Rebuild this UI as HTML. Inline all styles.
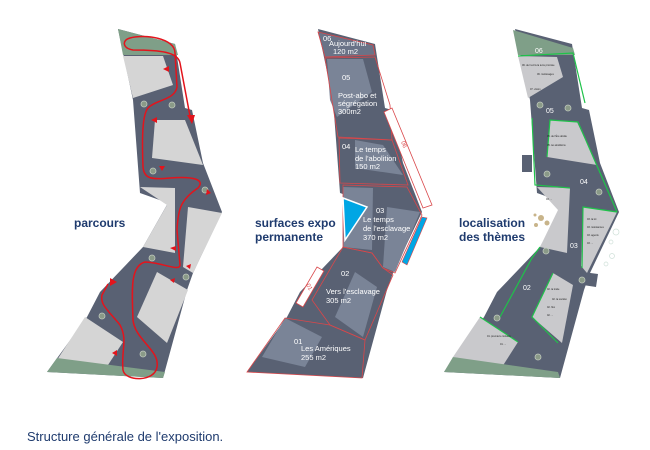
<!DOCTYPE html>
<html><head><meta charset="utf-8"><style>
html,body{margin:0;padding:0;background:#fff;}
svg{display:block;font-family:"Liberation Sans",sans-serif;}
</style></head><body>
<svg width="650" height="450" viewBox="0 0 650 450" xmlns="http://www.w3.org/2000/svg">
<defs>
<path id="outline" d="M118,29 L175,44 L185,108 L192,110 L203,163 L222,212 L193,273 L187,290 L163,378 L47,372 L87,317 L100,292 L143,247 L168,203 L140,193 L133,100 Z"/>
</defs>

<!-- PLAN 1 -->
<g>
<use href="#outline" fill="#596173"/>
<path d="M118,29 L175,44 L178,55 L123,55 Z" fill="#7f9f88"/>
<path d="M123,56 L163,56 L173,85 L133,98 Z" fill="#d5d5d5"/>
<path d="M155,120 L185,120 L203,165 L152,158 Z" fill="#d5d5d5"/>
<path d="M140,187 L175,188 L175,253 L143,247 L167,205 Z" fill="#d5d5d5"/>
<path d="M188,207 L222,213 L193,273 L183,267 Z" fill="#d5d5d5"/>
<path d="M157,272 L188,290 L167,343 L137,317 Z" fill="#d5d5d5"/>
<path d="M85,317 L123,342 L108,365 L57,360 Z" fill="#d5d5d5"/>
<path d="M47,372 L57,358 L165,372 L163,378 Z" fill="#7f9f88"/>
<g fill="#8a9a88" stroke="#bfc8bc" stroke-width="0.8">
<circle cx="144" cy="104" r="3"/><circle cx="172" cy="105" r="3"/><circle cx="153" cy="171" r="3"/>
<circle cx="205" cy="190" r="3"/><circle cx="152" cy="258" r="3"/><circle cx="186" cy="277" r="3"/>
<circle cx="102" cy="316" r="3"/><circle cx="143" cy="354" r="3"/>
</g>
<path d="M190,116 L180,63 C178,52 160,50 133,50 C122,48 122,40 130,38 C145,34 175,38 175,53 L177,87 C175,100 155,100 148,108 C142,115 142,140 143,167 C144,178 150,180 170,178 C195,176 205,180 198,188 C180,200 178,210 177,230 L180,265 C180,272 160,262 145,262 C130,266 132,290 133,320 C135,340 160,350 157,367 C155,382 125,382 123,370 C121,350 128,340 120,325 C108,310 100,305 102,295 L108,284" fill="none" stroke="#e3141c" stroke-width="1.5"/>
<g fill="#e3141c">
<path d="M187,115 L195,115 L192,124 Z"/>
<path d="M163,69 L169,66 L169,72 Z"/>
<path d="M151,120 L157,117 L157,123 Z"/>
<path d="M159,166 L165,166 L162,171 Z"/>
<path d="M207,189 L211,193 L206,195 Z"/>
<path d="M170,248 L176,246 L176,251 Z"/>
<path d="M186,266 L191,264 L190,269 Z"/>
<path d="M170,280 L175,278 L174,283 Z"/>
<path d="M110,278 L117,282 L110,286 Z"/>
<path d="M112,353 L117,350 L117,356 Z"/>
</g>
<text x="74" y="227" font-size="12" font-weight="bold" fill="#1f3b6e">parcours</text>
</g>

<!-- PLAN 2 -->
<g transform="translate(200,0)">
<use href="#outline" fill="#596173"/>
<path d="M118,32 L173,45 L175,55 L125,57 Z" fill="#6a7387" stroke="#d9474a" stroke-width="0.8"/>
<path d="M127,59 L163,59 L172,92 L137,117 L130,100 Z" fill="#7a8497"/>
<path d="M125,58 L175,57 L190,105 L192,140 L138,137 Z" fill="none" stroke="#d9474a" stroke-width="0.8"/>
<path d="M155,140 L183,145 L203,175 L155,168 Z" fill="#7a8497"/>
<path d="M139,138 L192,140 L208,185 L140,183 Z" fill="none" stroke="#d9474a" stroke-width="0.8"/>
<path d="M143,187 L173,188 L172,250 L143,247 Z" fill="#7a8497"/>
<path d="M187,207 L220,212 L195,272 L183,267 Z" fill="#7a8497"/>
<path d="M143,185 L207,187 L222,215 L195,273 L183,268 L172,253 L143,247 Z" fill="none" stroke="#d9474a" stroke-width="0.8"/>
<path d="M155,272 L177,287 L163,337 L135,317 Z" fill="#7a8497"/>
<path d="M143,247 L172,253 L183,268 L193,275 L165,340 L130,325 L112,300 Z" fill="none" stroke="#d9474a" stroke-width="0.8"/>
<path d="M85,318 L122,337 L105,367 L62,357 Z" fill="#7a8497"/>
<path d="M85,318 L130,325 L165,340 L162,378 L47,372 Z" fill="none" stroke="#d9474a" stroke-width="0.8"/>
<path d="M143,198 L167,207 L145,240 Z" fill="#00a6e4" stroke="#fff" stroke-width="1.5"/>
<path d="M222,217 L227,218 L207,265 L202,262 Z" fill="#00a6e4" stroke="#d9474a" stroke-width="0.6"/>
<path d="M184,112 L192,108 L232,205 L223,208 Z" fill="#fff" stroke="#d9474a" stroke-width="0.8"/>
<path d="M117,267 L124,271 L103,307 L96,303 Z" fill="#fff" stroke="#d9474a" stroke-width="0.8"/>
<text x="201" y="142" font-size="6" fill="#d9474a" transform="rotate(68 201 142)">06</text>
<text x="106" y="285" font-size="6" fill="#d9474a" transform="rotate(60 106 285)">01</text>
<g fill="#fff" font-size="7.5">
<text x="123" y="41">06</text><text x="129" y="46">Aujourd'hui</text><text x="133" y="54">120 m2</text>
<text x="142" y="80">05</text>
<text x="138" y="98">Post-abo et</text><text x="138" y="106">ségrégation</text><text x="138" y="114">300m2</text>
<text x="142" y="149">04</text>
<text x="155" y="152">Le temps</text><text x="155" y="161">de l'abolition</text><text x="155" y="169">150 m2</text>
<text x="176" y="213">03</text>
<text x="163" y="222">Le temps</text><text x="163" y="231">de l'esclavage</text><text x="163" y="240">370 m2</text>
<text x="141" y="276">02</text>
<text x="126" y="294">Vers l'esclavage</text><text x="126" y="303">305 m2</text>
<text x="94" y="344">01</text>
<text x="101" y="351">Les Amériques</text><text x="101" y="360">255 m2</text>
</g>
<text x="55" y="227" font-size="12" font-weight="bold" fill="#1f3b6e">surfaces expo</text>
<text x="55" y="241" font-size="12" font-weight="bold" fill="#1f3b6e">permanente</text>
</g>

<!-- PLAN 3 -->
<g transform="translate(397,0)">
<path d="M125,155 L135,155 L135,172 L125,172 Z" fill="#596173"/>
<path d="M186,272 L201,274 L199,287 L186,285 Z" fill="#596173"/>
<use href="#outline" fill="#596173"/>
<path d="M116,30 L176,48 L178,55 L121,55 Z" fill="#7f9f88"/>
<path d="M121,56 L160,57 L166,77 L131,98 Z" fill="#c9c9cc"/>
<path d="M153,120 L180,122 L200,165 L150,157 Z" fill="#c9c9cc"/>
<path d="M140,187 L173,188 L170,253 L143,247 L161,210 Z" fill="#c9c9cc"/>
<path d="M186,207 L220,212 L190,273 L184,266 Z" fill="#c9c9cc"/>
<path d="M156,273 L176,285 L165,343 L135,317 Z" fill="#c9c9cc"/>
<path d="M83,317 L121,342 L105,367 L56,357 Z" fill="#c9c9cc"/>
<path d="M47,372 L56,357 L161,372 L163,378 Z" fill="#7f9f88"/>
<g fill="none" stroke="#1fc24a" stroke-width="1.2">
<path d="M121,56 L176,53 L188,103"/>
<path d="M150,157 L153,120 L181,122 L220,212"/>
<path d="M135,118 L138,185 L173,188"/>
<path d="M185,268 L186,207 L220,212"/>
<path d="M143,247 L135,258 L103,317"/>
<path d="M156,273 L135,317 L161,343"/>
<path d="M83,317 L121,342"/>
</g>
<g fill="#8a9a88" stroke="#bfc8bc" stroke-width="0.8">
<circle cx="143" cy="105" r="3"/><circle cx="171" cy="108" r="3"/><circle cx="150" cy="174" r="3"/>
<circle cx="202" cy="192" r="3"/><circle cx="149" cy="251" r="3"/><circle cx="185" cy="280" r="3"/>
<circle cx="100" cy="318" r="3"/><circle cx="141" cy="357" r="3"/>
</g>
<g fill="#fff" font-size="7">
<text x="138" y="53">06</text><text x="149" y="113">05</text><text x="183" y="184">04</text>
<text x="173" y="248">03</text><text x="126" y="290">02</text>
</g>
<g fill="#222" font-size="2.5">
<text x="125" y="66">06. de l'exil à la terre promise</text><text x="140" y="75">06. métissages</text>
<text x="133" y="90">07. vision</text><text x="150" y="137">05. de l'Ère abolie</text>
<text x="150" y="146">05. les abolitions</text><text x="149" y="200">03. ...</text>
<text x="190" y="220">03. la loi</text><text x="190" y="228">03. résistances</text>
<text x="190" y="236">03. agents</text><text x="190" y="244">03. ...</text>
<text x="150" y="290">02. la traite</text><text x="155" y="300">02. la société</text>
<text x="150" y="308">02. flux</text><text x="150" y="316">02. ...</text>
<text x="90" y="337">01. premiers contacts</text><text x="103" y="345">01. ...</text>
</g>
<g fill="#c8b48a"><circle cx="144" cy="218" r="3"/><circle cx="139" cy="225" r="2"/><circle cx="150" cy="223" r="2.5"/><circle cx="138" cy="215" r="1.5"/></g>
<g fill="none" stroke="#cfe0d8" stroke-width="0.7"><circle cx="219" cy="232" r="3"/><circle cx="214" cy="242" r="2"/><circle cx="215" cy="256" r="2.5"/><circle cx="209" cy="264" r="2"/></g>
<text x="62" y="227" font-size="12" font-weight="bold" fill="#1f3b6e">localisation</text>
<text x="62" y="241" font-size="12" font-weight="bold" fill="#1f3b6e">des thèmes</text>
</g>

<text x="27" y="441" font-size="13" fill="#1f3b6e">Structure générale de l'exposition.</text>
</svg>
</body></html>
